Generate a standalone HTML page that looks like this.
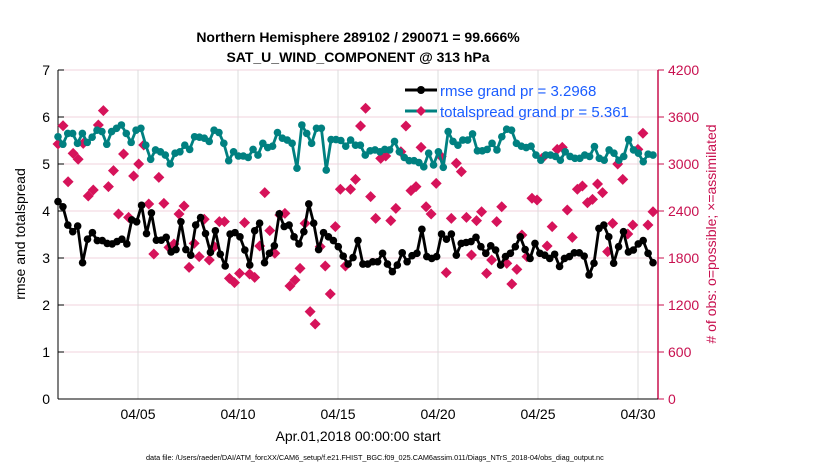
<!DOCTYPE html>
<html><head><meta charset="utf-8"><style>
body{margin:0;background:#fff;font-family:"Liberation Sans",sans-serif}
svg text{font-family:"Liberation Sans",sans-serif}
</style></head><body>
<svg id="chart" width="830" height="470" xmlns="http://www.w3.org/2000/svg">
<g id="grid"></g>
<g id="axes"></g>
<g id="series"></g>
<text x="358" y="42" text-anchor="middle" font-size="14" font-weight="bold">Northern Hemisphere 289102 / 290071 = 99.666%</text>
<text x="358" y="62" text-anchor="middle" font-size="14" font-weight="bold">SAT_U_WIND_COMPONENT @ 313 hPa</text>
<text x="358" y="441" text-anchor="middle" font-size="14">Apr.01,2018 00:00:00 start</text>
<text transform="translate(25,234) rotate(-90)" text-anchor="middle" font-size="14">rmse and totalspread</text>
<text transform="translate(716,234) rotate(-90)" text-anchor="middle" font-size="14" fill="#c8104f"># of obs: o=possible; ×=assimilated</text>
<text x="146" y="460" font-size="7.3">data file: /Users/raeder/DAI/ATM_forcXX/CAM6_setup/f.e21.FHIST_BGC.f09_025.CAM6assim.011/Diags_NTrS_2018-04/obs_diag_output.nc</text>
<g>
<g>
<line x1="405" y1="90" x2="437" y2="90" stroke="#000" stroke-width="3"/><circle cx="421" cy="90" r="4" fill="#000"/>
<text x="440" y="96" font-size="15" fill="#1a5cff">rmse grand pr = 3.2968</text></g>
<g>
<line x1="405" y1="111" x2="437" y2="111" stroke="#008080" stroke-width="3"/><path d="M421,106 L426,111 L421,116 L416,111Z" fill="#d6135a"/>
<text x="440" y="117" font-size="15" fill="#1a5cff">totalspread grand pr = 5.361</text></g>
</g>
</svg>
<script>
const rmse=[4.20,4.09,3.70,3.56,3.68,2.90,3.40,3.54,3.37,3.37,3.31,3.30,3.35,3.40,3.30,3.81,3.77,4.12,3.52,3.96,3.38,3.38,3.44,3.13,3.18,3.77,3.18,3.06,3.70,3.86,3.52,3.12,3.58,3.08,2.83,3.51,3.54,3.45,3.17,2.85,3.58,3.74,2.90,3.10,3.26,3.94,3.67,3.70,3.45,3.30,3.56,4.15,3.74,3.18,3.54,3.45,3.37,3.24,3.04,2.87,3.01,3.37,2.87,
2.87,2.92,2.92,3.10,2.87,2.71,2.85,3.11,2.92,3.05,3.10,3.61,3.03,2.99,3.03,3.51,3.40,3.51,3.06,3.31,3.33,3.35,3.44,3.24,3.10,3.26,3.17,2.85,3.03,3.10,3.24,3.45,3.18,2.99,3.31,3.10,3.06,2.99,3.08,2.82,2.99,3.03,3.11,3.11,3.04,2.64,2.89,3.63,3.70,3.45,2.89,3.24,3.56,3.13,3.17,3.30,3.37,3.10,2.90];
const spread=[5.58,5.42,5.65,5.65,5.44,5.65,5.46,5.57,5.72,5.69,5.42,5.69,5.76,5.83,5.65,5.46,5.72,5.76,5.40,5.10,5.30,5.26,5.19,5.00,5.23,5.26,5.40,5.31,5.58,5.57,5.55,5.48,5.72,5.67,5.44,5.07,5.26,5.17,5.17,5.14,5.31,5.19,5.44,5.35,5.38,5.67,5.55,5.51,5.44,4.91,5.83,5.65,5.44,5.76,5.76,4.87,5.52,5.52,5.50,5.38,
5.51,5.40,5.40,5.19,5.28,5.30,5.26,5.31,5.30,5.48,5.26,5.14,5.07,5.07,5.03,4.94,5.23,4.98,5.26,4.93,5.69,5.48,5.40,5.51,5.51,5.64,5.28,5.28,5.31,5.44,5.30,5.58,5.74,5.72,5.44,5.38,5.35,5.38,5.19,5.08,5.19,5.19,5.16,5.08,5.26,5.16,5.12,5.12,5.19,5.16,5.37,5.12,5.08,5.30,5.23,5.08,5.16,5.52,5.30,5.23,5.05,5.21,5.19];
const nobs=[3255,3489,2774,3136,3060,3264,2592,2668,3498,3681,2711,2915,2362,3128,2319,2847,3000,3243,2489,1851,2830,2498,1936,1979,2362,2464,1681,1987,1817,2294,1774,1945,2264,2264,1540,1485,1604,2251,1596,1553,1953,2634,2149,1860,2349,2370,1443,1519,1668,2242,1115,957,1945,1698,1340,2200,2677,1698,2677,2804,3485,3711,
2583,2306,3072,3102,2277,2434,3157,3485,2660,2711,3213,2455,2362,2753,3094,1613,2306,3009,2902,2319,1838,2277,2391,1604,1774,2264,2455,1732,1468,1655,2094,1817,2562,2540,3072,1953,2200,3187,3213,2413,2064,2677,2719,2506,2549,2745,2634,1881,2242,3000,2804,2106,2221,3187,3392,2221,2391];
const yTicks=[0,1,2,3,4,5,6,7];
const rTicks=[0,600,1200,1800,2400,3000,3600,4200];
const xTickDays=[5,10,15,20,25,30];
const xTickLabels=["04/05","04/10","04/15","04/20","04/25","04/30"];
const dayStart=1, dayEnd=30.75;
const X0=58,X1=658,Y0=399,Y1=70;
const xs=d=>X0+(d-1)*20;
const ys=v=>Y0-(v/7)*(Y0-Y1);
const yr=v=>Y0-(v/4200)*(Y0-Y1);
const NS="http://www.w3.org/2000/svg";
function mk(tag,attrs,parent){const e=document.createElementNS(NS,tag);for(const k in attrs)e.setAttribute(k,attrs[k]);parent.appendChild(e);return e;}
const grid=document.getElementById('grid'),axes=document.getElementById('axes'),ser=document.getElementById('series');
rTicks.forEach((t,i)=>{const y=yr(t);
 const l=mk('line',{x1:X0,x2:X1,y1:y,y2:y,stroke:'#f2d3de','stroke-width':1},grid);
 
 
 const tk=mk('line',{x1:X1,x2:X1+6,y1:y,y2:y,stroke:'#c8104f','stroke-width':1},axes);
 
 
 const tx=mk('text',{x:X1+10,y:y+5,'font-size':14,fill:'#c8104f'},axes);tx.textContent=t;
 
 
});
yTicks.forEach(t=>{const y=ys(t);
 const tk=mk('line',{x1:X0,x2:X0+6,y1:y,y2:y,stroke:'#000'},axes);
 
 
 const tx=mk('text',{x:X0-8,y:y+5,'font-size':14,'text-anchor':'end'},axes);tx.textContent=t;
 
 
});
xTickDays.forEach((d,i)=>{const x=xs(d);
 const l=mk('line',{x1:x,x2:x,y1:Y1,y2:Y0,stroke:'#dcdcdc'},grid);
 
 
 const tx=mk('text',{x:x,y:419,'font-size':14,'text-anchor':'middle'},axes);tx.textContent=xTickLabels[i];
 
 
});
const la=mk('line',{x1:X0,x2:X0,y1:Y1,y2:Y0,stroke:'#000','stroke-width':1},axes);


const ra=mk('line',{x1:X1,x2:X1,y1:Y1,y2:Y0,stroke:'#c8104f','stroke-width':1.5},axes);


const ba=mk('line',{x1:X0,x2:X1,y1:Y0,y2:Y0,stroke:'#000'},axes);


function dayOf(i,n){return dayStart+(dayEnd-dayStart)*i/(n-1);}
nobs.forEach((v,i)=>{const x=xs(dayOf(i,nobs.length)),y=yr(v);
 const p=mk('path',{d:`M${x},${y-5.5}L${x+5.5},${y}L${x},${y+5.5}L${x-5.5},${y}Z`,fill:'#d6135a'},ser);
 
 
});
function line(arr,color,name,mname,r){
 const pts=arr.map((v,i)=>xs(dayOf(i,arr.length))+','+ys(v)).join(' ');
 const pl=mk('polyline',{points:pts,fill:'none',stroke:color,'stroke-width':2.8,'stroke-linejoin':'round'},ser);
 
 
 arr.forEach((v,i)=>{const c=mk('circle',{cx:xs(dayOf(i,arr.length)),cy:ys(v),r:r,fill:color},ser);
  
  });
}
line(spread,'#008080','totalspread-line','totalspread-point',3.8);
line(rmse,'#000000','rmse-line','rmse-point',3.8);
</script>
</body></html>
